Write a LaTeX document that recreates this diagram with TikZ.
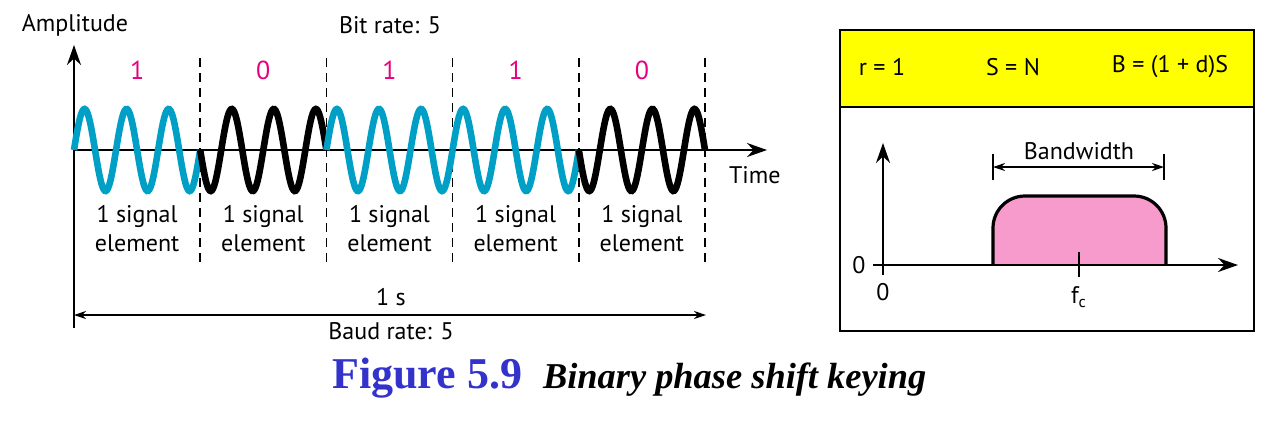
\documentclass[tikz,border=0pt]{standalone}
\usepackage{fontspec}
\setmainfont{PT Sans}
\newfontfamily\capfont{Liberation Serif}
\usetikzlibrary{arrows.meta, positioning}
\definecolor{WaveBlue}{HTML}{00A0C6}
\definecolor{BitPink}{HTML}{E6007E}
\definecolor{BoxYellow}{HTML}{FFFF00}
\definecolor{BandPink}{HTML}{F69BCB}
\definecolor{CapBlue}{HTML}{3333CC}
\tikzset{
  axis/.style={line width=1pt, -{Stealth[length=10pt,width=7pt]}},
  dimline/.style={line width=0.6pt, {Stealth[length=6pt,width=4pt]}-{Stealth[length=6pt,width=4pt]}},
  divider/.style={dash pattern=on 4.5pt off 3pt, line width=0.8pt},
  wave/.style={line width=3.3pt},
  bit/.style={text=BitPink, font=\fontsize{13}{15}\selectfont},
  lbl/.style={font=\fontsize{12}{14.5}\selectfont, align=center},
}

\begin{document}
\begin{tikzpicture}[x=0.5pt, y=-0.5pt]
\useasboundingbox (0,0) rectangle (1264,425);

% time signal
\coordinate (origin) at (74,150);
\coordinate (ytop) at (74,45);
\coordinate (ybot) at (74,328);
\coordinate (tend) at (767,150);
\foreach \i in {1,...,5}
  \draw[divider] ({74+126.2*\i},58) -- ({74+126.2*\i},262);
\draw[line width=1pt] (ybot) -- (origin);
\draw[axis] (origin) -- (ytop);
\draw[axis] (origin) -- (tend);
\foreach \i/\bit/\s/\c in {0/1/1/WaveBlue, 1/0/-1/black, 2/1/1/WaveBlue, 3/1/1/WaveBlue, 4/0/-1/black} {
  \draw[wave, \c] plot[domain=0:126.2, samples=120, variable=\t]
    ({74+126.2*\i+\t}, {150-(\s)*41*sin(\t/126.2*1080)});
  \node[bit] (bit\i) at ({137.1+126.2*\i}, 70) {\bit};
  \node[lbl] (elem\i) at ({137.1+126.2*\i}, 229) {1 signal\\element};
}
\node[lbl] (amp) at (75,25) {Amplitude};
\node[lbl] (bitrate) at (390,25) {Bit rate: 5};
\node[lbl, anchor=west] (time) at (722,175) {Time};

\coordinate (bl) at (74,315);
\coordinate (br) at (706,315);
\draw[dimline] (bl) -- (br);
\node[lbl] (onesec) at (391,297) {1 s};
\node[lbl] (baud) at (391,331) {Baud rate: 5};

% spectrum box
\draw[line width=1pt, fill=BoxYellow] (840,30) rectangle (1254,107);
\draw[line width=1pt, fill=white] (840,107) rectangle (1254,331);
\node[lbl] (rval) at (882,67) {r = 1};
\node[lbl] (sval) at (1013,67) {S = N};
\node[lbl] (bval) at (1170,67) {B = (1 + d)S};

\draw[line width=1.6pt, fill=BandPink, rounded corners=16pt]
  (993,265) -- (993,196) -- (1166,196) -- (1166,265);
\coordinate (so) at (883,265);
\coordinate (sytop) at (883,143);
\coordinate (sybot) at (883,275);
\coordinate (sxl) at (873,265);
\coordinate (sxr) at (1238,265);
\draw[line width=1pt] (sybot) -- (so) -- (sxl);
\draw[axis] (so) -- (sytop);
\draw[axis] (so) -- (sxr);
\draw[line width=1pt] (1079,252) -- (1079,277);

\coordinate (bwl) at (993,167);
\coordinate (bwr) at (1164,167);
\draw[line width=0.6pt] (993,154) -- (993,180) (1164,154) -- (1164,180);
\draw[dimline] (bwl) -- (bwr);
\node[lbl] (bw) at (1079,151) {Bandwidth};
\node[lbl] (zeroy) at (859,265) {0};
\node[lbl] (zerox) at (883,292) {0};
\node[lbl] (fc) at (1079,297) {f\textsubscript{c}};

% caption
\node[font=\capfont\bfseries\fontsize{22}{26}\selectfont, text=CapBlue, inner sep=0, anchor=west] (fignum) at (332,378) {Figure 5.9};
\node[font=\capfont\bfseries\itshape\fontsize{18.2}{21}\selectfont, inner sep=0, base right=10pt of fignum] (figtitle) {Binary phase shift keying};
\end{tikzpicture}
\end{document}
